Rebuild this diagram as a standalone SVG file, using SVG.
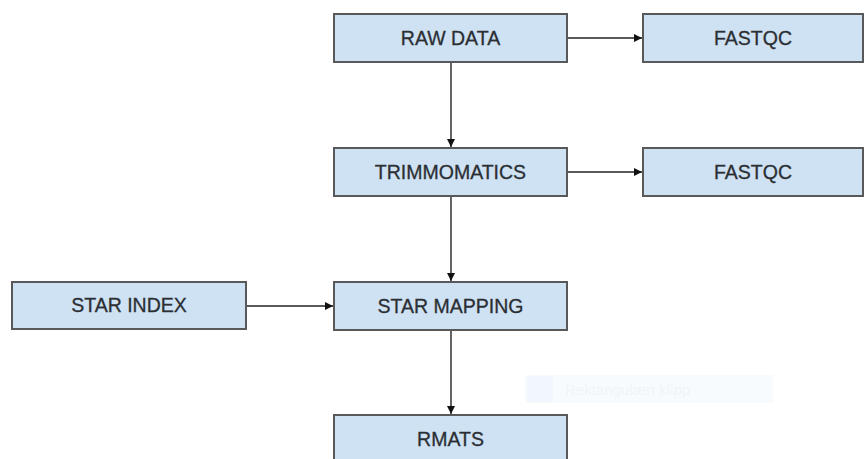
<svg xmlns="http://www.w3.org/2000/svg" width="868" height="459" viewBox="0 0 868 459">
<style>
.box{fill:#cfe2f3;stroke:#595959;stroke-width:2}
.lbl{font-family:"Liberation Sans",Arial,sans-serif;font-size:19.5px;fill:#2b2f34;stroke:#2b2f34;stroke-width:0.3;text-anchor:middle}
.conn{stroke:#222;stroke-width:1.4;fill:none}
</style>
<defs>
<marker id="ah" markerWidth="10" markerHeight="10" refX="8" refY="4" orient="auto" markerUnits="userSpaceOnUse">
<path d="M0,0 L8,4 L0,8 Z" fill="#111"/>
</marker>
</defs>
<rect width="868" height="459" fill="#fff"/>
<g id="watermark">
<rect x="525" y="375" width="248" height="28" fill="#f8fbfe"/>
<rect x="527" y="376" width="26" height="26" fill="#f2f7fd"/>
<text x="565" y="395" font-family="Liberation Sans,Arial,sans-serif" font-size="15" fill="#f0f4f9">Rektangulært klipp</text>
</g>
<g id="connectors">
<line class="conn" x1="567" y1="38" x2="642" y2="38" marker-end="url(#ah)"/>
<line class="conn" x1="567" y1="172" x2="642" y2="172" marker-end="url(#ah)"/>
<line class="conn" x1="451" y1="62" x2="451" y2="147" marker-end="url(#ah)"/>
<line class="conn" x1="451" y1="196" x2="451" y2="281" marker-end="url(#ah)"/>
<line class="conn" x1="246" y1="306" x2="333" y2="306" marker-end="url(#ah)"/>
<line class="conn" x1="451" y1="330" x2="451" y2="414" marker-end="url(#ah)"/>
</g>
<g id="raw-data"><rect class="box" x="334" y="14" width="233" height="48"/><text class="lbl" x="450.5" y="45">RAW DATA</text></g>
<g id="fastqc-1"><rect class="box" x="643" y="14" width="220" height="48"/><text class="lbl" x="753" y="45">FASTQC</text></g>
<g id="trimmomatics"><rect class="box" x="334" y="148" width="233" height="48"/><text class="lbl" x="450.5" y="179">TRIMMOMATICS</text></g>
<g id="fastqc-2"><rect class="box" x="643" y="148" width="220" height="48"/><text class="lbl" x="753" y="179">FASTQC</text></g>
<g id="star-index"><rect class="box" x="12" y="282" width="234" height="47"/><text class="lbl" x="129" y="312">STAR INDEX</text></g>
<g id="star-mapping"><rect class="box" x="334" y="282" width="233" height="48"/><text class="lbl" x="450.5" y="313">STAR MAPPING</text></g>
<g id="rmats"><rect class="box" x="334" y="415" width="233" height="50"/><text class="lbl" x="450.5" y="446">RMATS</text></g>
</svg>
